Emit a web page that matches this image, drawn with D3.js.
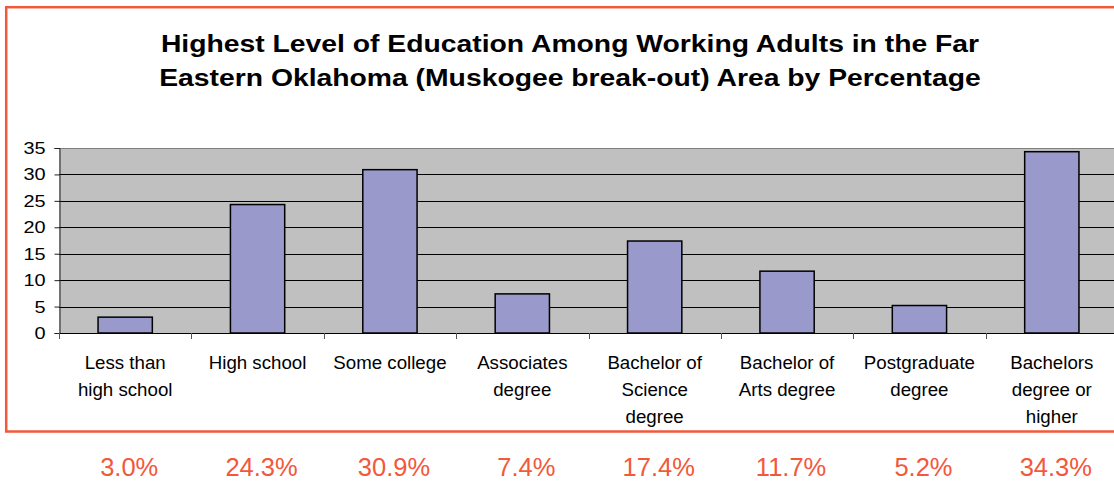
<!DOCTYPE html>
<html lang="en">
<head>
	<meta charset="UTF-8">
	<title>Highest Level of Education</title>
	<style>
		*{margin:0;padding:0;}
		body {background:#fff;}
		svg text {font-family: "Liberation Sans", Arial, sans-serif;}
	</style>
</head>
<body>
	<div id="container"></div>
	<script src="https://cdn.jsdelivr.net/npm/d3@7"></script>
	<script>
		var categories = ['Less than high school','High school','Some college','Associates degree',
			'Bachelor of Science degree','Bachelor of Arts degree','Postgraduate degree','Bachelors degree or higher']
		var catLines = [['Less than','high school'],['High school'],['Some college'],['Associates','degree'],
			['Bachelor of','Science','degree'],['Bachelor of','Arts degree'],['Postgraduate','degree'],['Bachelors','degree or','higher']]
		var values = [3.0, 24.3, 30.9, 7.4, 17.4, 11.7, 5.2, 34.3]
		var yTicks = [0,5,10,15,20,25,30,35]
		var titleLines = ['Highest Level of Education Among Working Adults in the Far',
			'Eastern Oklahoma (Muskogee break-out) Area by Percentage']

		var width = 1114, height = 481
		var plotL = 59, plotR = 1118, plotT = 148, plotB = 333
		var orange = '#f2583a'

		var svg = d3.select('#container').append('svg').attr('width', width).attr('height', height)

		// outer frame
		svg.append('rect')
			.attr('x', 6.2).attr('y', 7.2)
			.attr('width', 1140).attr('height', 424.3)
			.attr('fill', 'none').attr('stroke', orange).attr('stroke-width', 2.5)

		// title is drawn a bit wider than the font, like the original
		svg.selectAll('.title').data(titleLines).enter().append('text')
			.attr('class', 'title')
			.attr('transform', function (d, i) { return 'translate(570,' + (52 + i * 34) + ') scale(1.18,1)' })
			.attr('text-anchor', 'middle')
			.attr('font-size', '24px').attr('font-weight', 'bold')
			.attr('fill', '#000')
			.text(function (d) { return d })

		var x = d3.scaleBand().domain(categories).range([plotL, plotR]).padding(0)
		var y = d3.scaleLinear().domain([0, 35]).range([plotB, plotT])

		// plot area
		svg.append('rect')
			.attr('x', plotL).attr('y', plotT)
			.attr('width', plotR - plotL).attr('height', plotB - plotT)
			.attr('fill', '#c0c0c0')

		svg.append('g').selectAll('line').data(yTicks.slice(1, -1)).enter().append('line')
			.attr('x1', plotL).attr('x2', plotR)
			.attr('y1', function (d) { return Math.round(y(d)) + 0.5 })
			.attr('y2', function (d) { return Math.round(y(d)) + 0.5 })
			.attr('stroke', '#000').attr('stroke-width', 1)

		svg.append('line')
			.attr('x1', plotL).attr('x2', plotR)
			.attr('y1', plotT + 0.5).attr('y2', plotT + 0.5)
			.attr('stroke', '#808080')

		var bw = x.bandwidth() * 0.41
		svg.append('g').selectAll('rect').data(values).enter().append('rect')
			.attr('x', function (d, i) { return x(categories[i]) + (x.bandwidth() - bw) / 2 })
			.attr('y', function (d) { return y(d) })
			.attr('width', bw)
			.attr('height', function (d) { return y(0) - y(d) })
			.attr('fill', '#9999cc')
			.attr('stroke', '#000').attr('stroke-width', 1.5)

		// y axis
		var yAxis = svg.append('g')
			.attr('transform', 'translate(' + (plotL + 0.5) + ',0)')
			.call(d3.axisLeft(y).tickValues(yTicks).tickSize(5).tickPadding(9).tickFormat(d3.format('d')))
		yAxis.select('.domain').attr('stroke', '#222')
		yAxis.selectAll('.tick line').attr('stroke', '#222')
		yAxis.selectAll('text')
			.attr('x', null)
			.attr('transform', 'translate(-14,0) scale(1.17,1)')
			.attr('font-size', '17px').attr('fill', '#000')
			.style('font-family', '"Liberation Sans", Arial, sans-serif')

		// x axis line + boundary ticks
		svg.append('line')
			.attr('x1', plotL).attr('x2', plotR)
			.attr('y1', plotB + 0.5).attr('y2', plotB + 0.5)
			.attr('stroke', '#000')
		svg.append('g').selectAll('line').data(categories).enter().append('line')
			.attr('x1', function (d) { return Math.round(x(d)) + 0.5 })
			.attr('x2', function (d) { return Math.round(x(d)) + 0.5 })
			.attr('y1', plotB).attr('y2', plotB + 6)
			.attr('stroke', '#555')

		var lab = svg.append('g').selectAll('text').data(catLines).enter().append('text')
			.attr('x', function (d, i) { return x(categories[i]) + x.bandwidth() / 2 })
			.attr('y', 369)
			.attr('text-anchor', 'middle')
			.attr('font-size', '18.7px')
			.attr('fill', '#000')
		lab.selectAll('tspan').data(function (d) { return d }).enter().append('tspan')
			.attr('x', function () { return this.parentNode.getAttribute('x') })
			.attr('dy', function (d, i) { return i ? 27 : 0 })
			.text(function (d) { return d })

		// percentages below the frame
		svg.append('g').selectAll('text').data(values).enter().append('text')
			.attr('x', function (d, i) { return x(categories[i]) + x.bandwidth() / 2 + 4 })
			.attr('y', 476)
			.attr('text-anchor', 'middle')
			.attr('font-size', '25.5px')
			.attr('fill', orange)
			.text(function (d) { return d.toFixed(1) + '%' })
	</script>
</body>
</html>
